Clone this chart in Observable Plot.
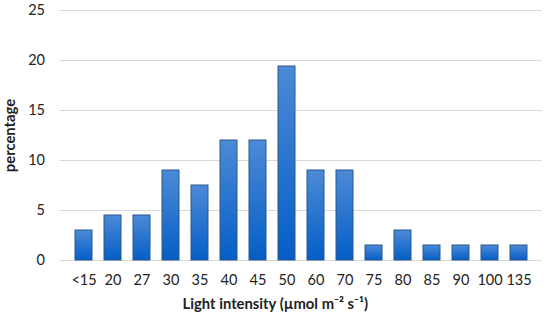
<!DOCTYPE html>
<html>
<head>
<meta charset="utf-8">
<script src="https://cdn.jsdelivr.net/npm/d3@7"></script>
<script src="https://cdn.jsdelivr.net/npm/@observablehq/plot@0.6"></script>
<style>
  html, body { margin: 0; padding: 0; background: #fff; }
  svg { display: block; }
</style>
</head>
<body>
<div id="chart"></div>
<script>
const categories = ["<15", "20", "27", "30", "35", "40", "45", "50", "60", "70", "75", "80", "85", "90", "100", "135"];
const values = [3, 4.5, 4.5, 9, 7.5, 12, 12, 19.4, 9, 9, 1.5, 3, 1.5, 1.5, 1.5, 1.5];
const yTicks = [0, 5, 10, 15, 20, 25];
const xTitle = "Light intensity (µmol m⁻² s⁻¹)";
const yTitle = "percentage";

const data = categories.map((c, i) => ({ cat: c, value: values[i] }));
const font = "Lato, 'Open Sans', sans-serif";

const chart = Plot.plot({
  width: 550,
  height: 324,
  marginLeft: 59.5,
  marginRight: 8,
  marginTop: 10,
  marginBottom: 64,
  style: { fontFamily: font, fontSize: "14.5px", color: "#222", background: "#fff" },
  x: { domain: categories, padding: 0.41, label: null },
  y: { domain: [0, 25], label: null },
  marks: [
    Plot.gridY(yTicks, { stroke: "#d9d9d9", strokeOpacity: 1, strokeWidth: 1 }),
    Plot.axisY(yTicks, { tickSize: 0, tickPadding: 15, fontSize: 14.5, label: null }),
    Plot.axisX({ tickSize: 0, tickPadding: 14, fontSize: 14.5, label: null }),
    Plot.barY(data, { x: "cat", y: "value", fill: "url(#barGrad)", stroke: "#2b5690", strokeWidth: 1 }),
    Plot.text([xTitle], { text: d => d, frameAnchor: "bottom", dy: 48, dx: -26, fontWeight: "bold", fontSize: 14.8 }),
    Plot.text([yTitle], { text: d => d, frameAnchor: "left", textAnchor: "middle", dx: -50, rotate: -90, fontWeight: "bold", fontSize: 14.8 })
  ]
});

const svg = d3.select(chart);
const defs = svg.insert("defs", ":first-child");
const g = defs.append("linearGradient").attr("id", "barGrad")
  .attr("x1", 0).attr("y1", 0).attr("x2", 0).attr("y2", 1);
g.append("stop").attr("offset", "0%").attr("stop-color", "#4c8ad6");
g.append("stop").attr("offset", "100%").attr("stop-color", "#055ec6");

document.getElementById("chart").appendChild(chart);
</script>
</body>
</html>
